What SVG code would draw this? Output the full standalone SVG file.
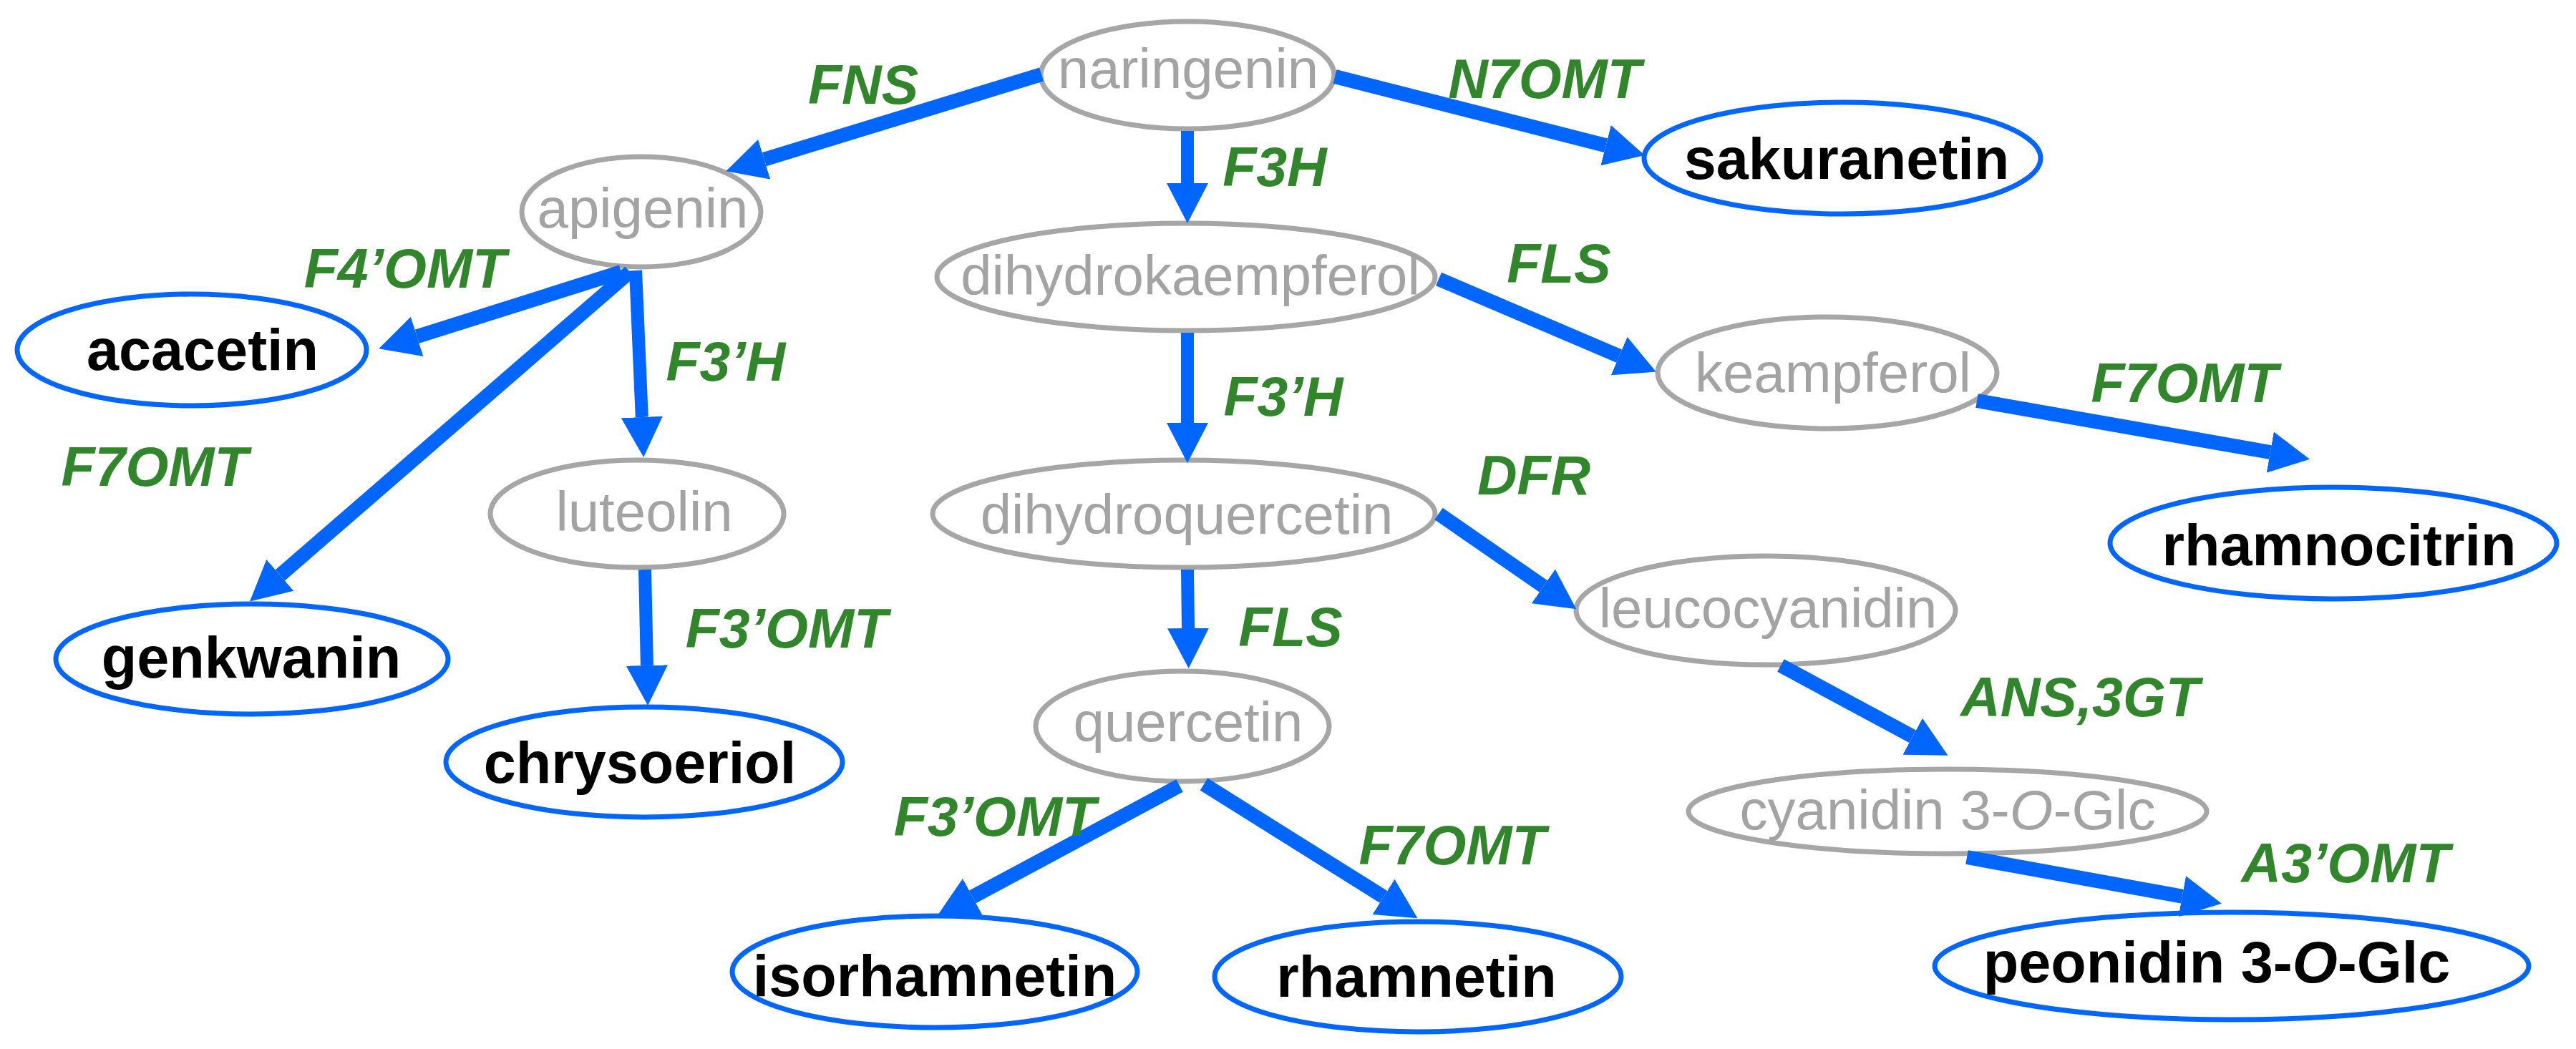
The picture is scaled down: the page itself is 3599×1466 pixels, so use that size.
<svg xmlns="http://www.w3.org/2000/svg" width="3599" height="1466" viewBox="0 0 3599 1466">
<style>
.g ellipse{fill:#fff;stroke:#a6a6a6;stroke-width:7}
.b ellipse{fill:#fff;stroke:#0066ff;stroke-width:7}
.g text{font-family:"Liberation Sans",Arial,sans-serif;font-size:78px;fill:#a3a3a3;text-anchor:middle}
.b text{font-family:"Liberation Sans",Arial,sans-serif;font-size:81px;font-weight:bold;fill:#000;text-anchor:middle}
.lab{font-family:"Liberation Sans",Arial,sans-serif;font-size:77px;font-weight:bold;font-style:italic;fill:#31862c;text-anchor:middle}
#connectors line{stroke:#0066ff;stroke-width:20;marker-end:url(#ah)}
#connectors line.v{stroke-width:18}
</style>
<defs>
<marker id="ah" markerUnits="userSpaceOnUse" viewBox="0 -30 56 60" markerWidth="56" markerHeight="60" refX="0" refY="0" orient="auto">
<path d="M0,-29 L56,0 L0,29 Z" fill="#0066ff"/>
</marker>
</defs>
<rect width="3599" height="1466" fill="#fff"/>

<g id="n-naringenin" class="g"><ellipse cx="1659" cy="105" rx="205" ry="75"/><text x="1660" y="123">naringenin</text></g>
<g id="n-apigenin" class="g"><ellipse cx="896" cy="296" rx="167" ry="77"/><text x="898" y="318">apigenin</text></g>
<g id="n-dihydrokaempferol" class="g"><ellipse cx="1657" cy="387" rx="348" ry="75"/><text x="1663" y="412">dihydrokaempferol</text></g>
<g id="n-sakuranetin" class="b"><ellipse cx="2574" cy="221" rx="277" ry="78"/><text x="2580" y="250">sakuranetin</text></g>
<g id="n-acacetin" class="b"><ellipse cx="268" cy="489" rx="244" ry="78"/><text x="283" y="517">acacetin</text></g>
<g id="n-keampferol" class="g"><ellipse cx="2553" cy="521" rx="237" ry="78"/><text x="2561" y="548">keampferol</text></g>
<g id="n-luteolin" class="g"><ellipse cx="890" cy="718" rx="205" ry="75"/><text x="900" y="742">luteolin</text></g>
<g id="n-dihydroquercetin" class="g"><ellipse cx="1654" cy="718" rx="351" ry="75"/><text x="1658" y="746">dihydroquercetin</text></g>
<g id="n-rhamnocitrin" class="b"><ellipse cx="3260" cy="759" rx="312" ry="78"/><text x="3268" y="790">rhamnocitrin</text></g>
<g id="n-genkwanin" class="b"><ellipse cx="352" cy="921" rx="274" ry="77"/><text x="351" y="947">genkwanin</text></g>
<g id="n-leucocyanidin" class="g"><ellipse cx="2467" cy="853" rx="265" ry="76"/><text x="2470" y="877">leucocyanidin</text></g>
<g id="n-quercetin" class="g"><ellipse cx="1652" cy="1015" rx="205" ry="77"/><text x="1660" y="1036">quercetin</text></g>
<g id="n-chrysoeriol" class="b"><ellipse cx="900" cy="1065" rx="277" ry="77"/><text x="894" y="1094">chrysoeriol</text></g>
<g id="n-cyanidin" class="g"><ellipse cx="2721" cy="1134" rx="362" ry="59"/><text x="2721" y="1159">cyanidin 3-<tspan font-style="italic">O</tspan>-Glc</text></g>
<g id="n-isorhamnetin" class="b"><ellipse cx="1306" cy="1358" rx="283" ry="78"/><text x="1306" y="1392">isorhamnetin</text></g>
<g id="n-rhamnetin" class="b"><ellipse cx="1981" cy="1365" rx="284" ry="77"/><text x="1979" y="1393">rhamnetin</text></g>
<g id="n-peonidin" class="b"><ellipse cx="3118" cy="1350" rx="415" ry="75"/><text x="3097" y="1373">peonidin 3-<tspan font-style="italic">O</tspan>-Glc</text></g>

<g id="connectors">
<line x1="1455" y1="104" x2="1067.7" y2="222.8"/>
<line x1="1865" y1="107" x2="2243.6" y2="203.2"/>
<line class="v" x1="1659" y1="183" x2="1659" y2="256"/>
<line x1="868" y1="380" x2="582.6" y2="470.3"/>
<line x1="880" y1="380" x2="391.3" y2="803.9"/>
<line class="v" x1="888" y1="378" x2="896.8" y2="583"/>
<line x1="2010" y1="390" x2="2262.2" y2="497.6"/>
<line class="v" x1="1659" y1="465" x2="1659" y2="591"/>
<line x1="2010" y1="718" x2="2156.3" y2="819.4"/>
<line class="v" x1="1659" y1="796" x2="1660" y2="878"/>
<line x1="2762" y1="560" x2="3171.8" y2="632"/>
<line class="v" x1="901" y1="796" x2="903.9" y2="930"/>
<line x1="2488" y1="930" x2="2672.2" y2="1029.3"/>
<line x1="1648" y1="1098" x2="1358.8" y2="1253.4"/>
<line x1="1682" y1="1096" x2="1933" y2="1253.4"/>
<line x1="2748" y1="1198" x2="3048.8" y2="1252.7"/>
</g>

<g id="labels">
<text class="lab" x="1206" y="145">FNS</text>
<text class="lab" x="2158" y="137">N7OMT</text>
<text class="lab" x="1781" y="260">F3H</text>
<text class="lab" x="2178" y="395">FLS</text>
<text class="lab" x="566" y="402">F4’OMT</text>
<text class="lab" x="1014" y="532">F3’H</text>
<text class="lab" x="216" y="679">F7OMT</text>
<text class="lab" x="1793" y="581">F3’H</text>
<text class="lab" x="2143" y="691">DFR</text>
<text class="lab" x="3052" y="562">F7OMT</text>
<text class="lab" x="1099" y="905">F3’OMT</text>
<text class="lab" x="1803" y="903">FLS</text>
<text class="lab" x="2906" y="1001">ANS,3GT</text>
<text class="lab" x="1390" y="1168">F3’OMT</text>
<text class="lab" x="2029" y="1208">F7OMT</text>
<text class="lab" x="3277" y="1233">A3’OMT</text>
</g>
</svg>
